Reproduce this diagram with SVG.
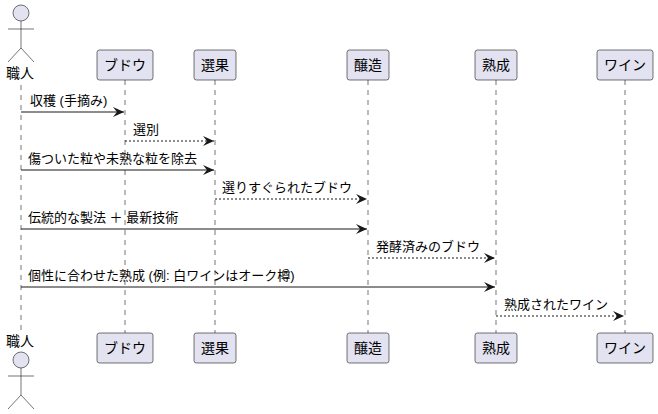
<svg xmlns="http://www.w3.org/2000/svg" width="658" height="414" viewBox="0 0 658 414">
<style>
text{font-family:"Liberation Sans","Noto Sans CJK JP",sans-serif;font-size:13px;fill:#000}
.box{fill:#E2E2F0;stroke:#181818;stroke-width:0.6}
.life{stroke:#181818;stroke-width:0.6;stroke-dasharray:5,5}
.act{fill:none;stroke:#181818;stroke-width:0.6}
.m{stroke:#181818;stroke-width:1}
.d{stroke:#181818;stroke-width:1;stroke-dasharray:2,2}
.c{text-anchor:middle;font-size:14px}
</style>
<defs><marker id="a" markerWidth="12" markerHeight="10" refX="11" refY="5" orient="auto" markerUnits="userSpaceOnUse"><path d="M0,0 L11,5 L0,10 L4,5 Z" fill="#181818"/></marker></defs>
<g id="lifelines">
<line class="life" x1="21" y1="85" x2="21" y2="333"/>
<line class="life" x1="125" y1="80" x2="125" y2="333"/>
<line class="life" x1="215" y1="80" x2="215" y2="333"/>
<line class="life" x1="368" y1="80" x2="368" y2="333"/>
<line class="life" x1="496" y1="80" x2="496" y2="333"/>
<line class="life" x1="625" y1="80" x2="625" y2="333"/>
</g>
<g id="actor-top">
<circle cx="21" cy="13" r="8" fill="#E2E2F0" stroke="#181818" stroke-width="0.6"/>
<path class="act" d="M21,21 V48 M8,29 H34 M8,62 L21,48 L34,62"/>
<text class="c" x="20" y="78">職人</text>
</g>
<g id="actor-bottom">
<text class="c" x="20" y="346">職人</text>
<circle cx="21" cy="360" r="8" fill="#E2E2F0" stroke="#181818" stroke-width="0.6"/>
<path class="act" d="M21,368 V395 M8,376 H34 M8,409 L21,395 L34,409"/>
</g>
<g id="budou"><rect class="box" x="97" y="50" width="56" height="30" rx="2.5"/><rect class="box" x="97" y="333" width="56" height="30" rx="2.5"/><text class="c" x="125" y="70">ブドウ</text><text class="c" x="125" y="353">ブドウ</text></g>
<g id="senka"><rect class="box" x="194" y="50" width="42" height="30" rx="2.5"/><rect class="box" x="194" y="333" width="42" height="30" rx="2.5"/><text class="c" x="215" y="70">選果</text><text class="c" x="215" y="353">選果</text></g>
<g id="jozo"><rect class="box" x="347" y="50" width="42" height="30" rx="2.5"/><rect class="box" x="347" y="333" width="42" height="30" rx="2.5"/><text class="c" x="368" y="70">醸造</text><text class="c" x="368" y="353">醸造</text></g>
<g id="jukusei"><rect class="box" x="475" y="50" width="42" height="30" rx="2.5"/><rect class="box" x="475" y="333" width="42" height="30" rx="2.5"/><text class="c" x="496" y="70">熟成</text><text class="c" x="496" y="353">熟成</text></g>
<g id="wine"><rect class="box" x="597" y="50" width="56" height="30" rx="2.5"/><rect class="box" x="597" y="333" width="56" height="30" rx="2.5"/><text class="c" x="625" y="70">ワイン</text><text class="c" x="625" y="353">ワイン</text></g>
<g id="connectors">
<line class="m" x1="21" y1="112" x2="124" y2="112" marker-end="url(#a)"/>
<text x="30" y="105">収穫 (手摘み)</text>
<line class="d" x1="125" y1="141" x2="214" y2="141" marker-end="url(#a)"/>
<text x="133" y="134">選別</text>
<line class="m" x1="21" y1="170" x2="214" y2="170" marker-end="url(#a)"/>
<text x="28" y="163">傷ついた粒や未熟な粒を除去</text>
<line class="d" x1="215" y1="199" x2="367" y2="199" marker-end="url(#a)"/>
<text x="222" y="192">選りすぐられたブドウ</text>
<line class="m" x1="21" y1="229" x2="367" y2="229" marker-end="url(#a)"/>
<text x="28" y="222">伝統的な製法 ＋ 最新技術</text>
<line class="d" x1="368" y1="258" x2="495" y2="258" marker-end="url(#a)"/>
<text x="376" y="251">発酵済みのブドウ</text>
<line class="m" x1="21" y1="287" x2="495" y2="287" marker-end="url(#a)"/>
<text x="28" y="280">個性に合わせた熟成 (例: 白ワインはオーク樽)</text>
<line class="d" x1="496" y1="316" x2="624" y2="316" marker-end="url(#a)"/>
<text x="504" y="309">熟成されたワイン</text>
</g>
</svg>
